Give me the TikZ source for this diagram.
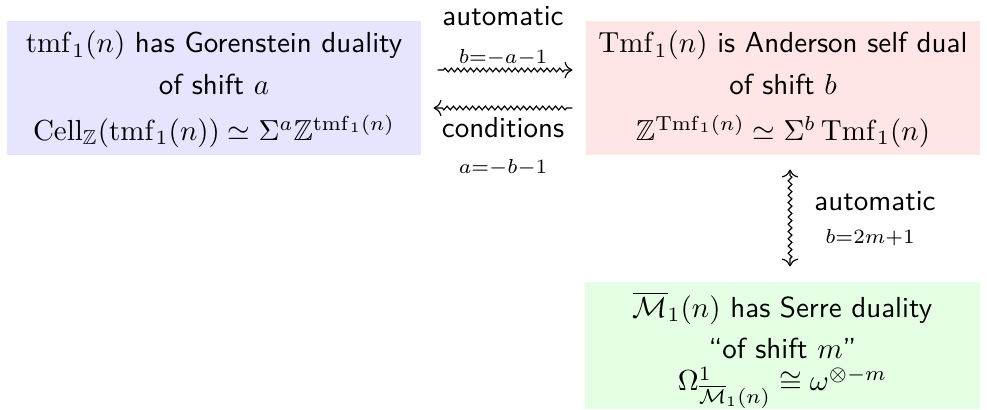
\documentclass[tikz,border=0pt]{standalone}
\usepackage{amssymb}
\usetikzlibrary{decorations.pathmorphing,calc,arrows.meta}
\def\px{0.345pt}
\tikzset{
  box/.style={inner sep=0pt, align=center, font={\sffamily}},
  lab/.style={inner sep=0pt, anchor=base, font=\sffamily},
  sml/.style={inner sep=0pt, anchor=base, font=\scriptsize},
  sq/.style={decorate, decoration={zigzag, segment length=2.2pt, amplitude=0.65pt, pre=lineto, pre length=2pt, post=lineto, post length=2.5pt}},
  sqv/.style={sq, decoration={segment length=2.5pt}},
  >={To[scale=1.1]},
}
\begin{document}
\begin{tikzpicture}[x=0.345pt, y=-0.345pt]
\useasboundingbox (0,0) rectangle (987,409);
\node[box, fill=blue!10, minimum width=414*\px, minimum height=134*\px] (blue) at (214,88)
  {\rule{0pt}{8.5pt}$\mathrm{tmf}_1(n)$ has Gorenstein duality\\[2.3pt] of shift $a$\\[4pt] $\mathrm{Cell}_{\mathbb Z}(\mathrm{tmf}_1(n)) \simeq \Sigma^a\mathbb{Z}^{\mathrm{tmf}_1(n)}$};
\node[box, fill=red!10, minimum width=394*\px, minimum height=134*\px] (red) at (783,88)
  {\rule{0pt}{8.5pt}$\mathrm{Tmf}_1(n)$ is Anderson self dual\\[2.3pt] of shift $b$\\[4pt] $\mathbb{Z}^{\mathrm{Tmf}_1(n)} \simeq \Sigma^b\,\mathrm{Tmf}_1(n)$};
\node[box, fill=green!10, minimum width=395*\px, minimum height=127*\px] (green) at (782.5,345.5)
  {\rule{0pt}{12pt}$\overline{\mathcal{M}}_1(n)$ has Serre duality\\[2.2pt] ``of shift $m$''\\[-0.8pt] $\Omega^1_{\overline{\mathcal{M}}_1(n)} \cong \omega^{\otimes -m}$};
\draw[sq,->] ($(blue.east)+(16,-18)$) -- ($(red.west)+(-13,-18)$);
\draw[sq,->] ($(red.west)+(-13,20)$) -- ($(blue.east)+(12,20)$);
\draw[sqv,<->] ($(red.south)+(7,14)$) -- ($(green.north)+(7.5,-15)$);
\node[lab] (auto1) at (503,25) {automatic};
\node[sml] (eq1) at (503,63) {$b{=}{-a}{-}1$};
\node[lab] (cond) at (503,137) {conditions};
\node[sml] (eq2) at (503,173) {$a{=}{-b}{-}1$};
\node[lab] (auto2) at (875,210) {automatic};
\node[sml] (eq3) at (870,243) {$b{=}2m{+}1$};
\end{tikzpicture}
\end{document}
